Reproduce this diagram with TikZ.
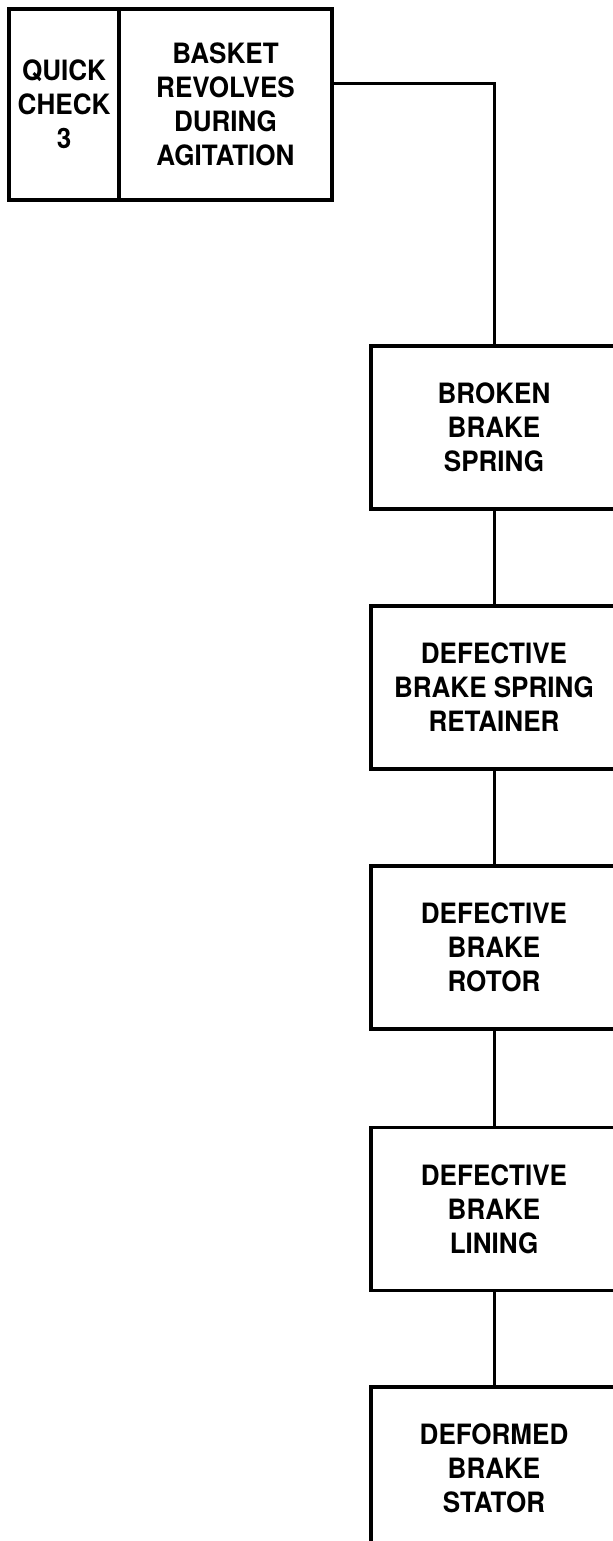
\documentclass[tikz,border=0pt]{standalone}
\usepackage{fontspec}
\newfontfamily\hvfont{TeX Gyre Heros}[FakeStretch=0.93]
\usetikzlibrary{calc}
\begin{document}
\begin{tikzpicture}[x=0.5pt,y=-0.5pt,
  lbl/.style={font=\hvfont\bfseries\fontsize{14}{17}\selectfont, align=center, text=black},
  box/.style={lbl, draw=black, line width=1.7pt, fill=white, inner sep=0pt},
  wire/.style={draw=black, line width=1.5pt}]
\useasboundingbox (0,0) rectangle (613,1541);
\clip (0,0) rectangle (613,1541);
\fill[white] (0,0) rectangle (613,1541);
% top box
\node[box, minimum width=55pt, minimum height=95.5pt] (qc) at (64,104.5) {QUICK\\CHECK\\3};
\node[box, minimum width=106.5pt, minimum height=95.5pt] (bk) at (225.5,104.5) {BASKET\\REVOLVES\\DURING\\AGITATION};
% right column
\node[box, minimum width=123pt, minimum height=81.5pt] (b1) at (494,427.5) {BROKEN\\BRAKE\\SPRING};
\node[box, minimum width=123pt, minimum height=81.5pt] (b2) at (494,687.5) {DEFECTIVE\\BRAKE SPRING\\RETAINER};
\node[box, minimum width=123pt, minimum height=81.5pt] (b3) at (494,947.5) {DEFECTIVE\\BRAKE\\ROTOR};
\node[box, minimum width=123pt, minimum height=81.5pt] (b4) at (494,1209) {DEFECTIVE\\BRAKE\\LINING};
\node[box, minimum width=123pt, minimum height=81.5pt] (b5) at (494,1468.5) {DEFORMED\\BRAKE\\STATOR};
% connectors
\coordinate (bkout) at ($(bk.north east)!0.393!(bk.south east)$);
\draw[wire] (bkout) -| (b1.north);
\draw[wire] (b1.south) -- (b2.north);
\draw[wire] (b2.south) -- (b3.north);
\draw[wire] (b3.south) -- (b4.north);
\draw[wire] (b4.south) -- (b5.north);
\end{tikzpicture}
\end{document}
